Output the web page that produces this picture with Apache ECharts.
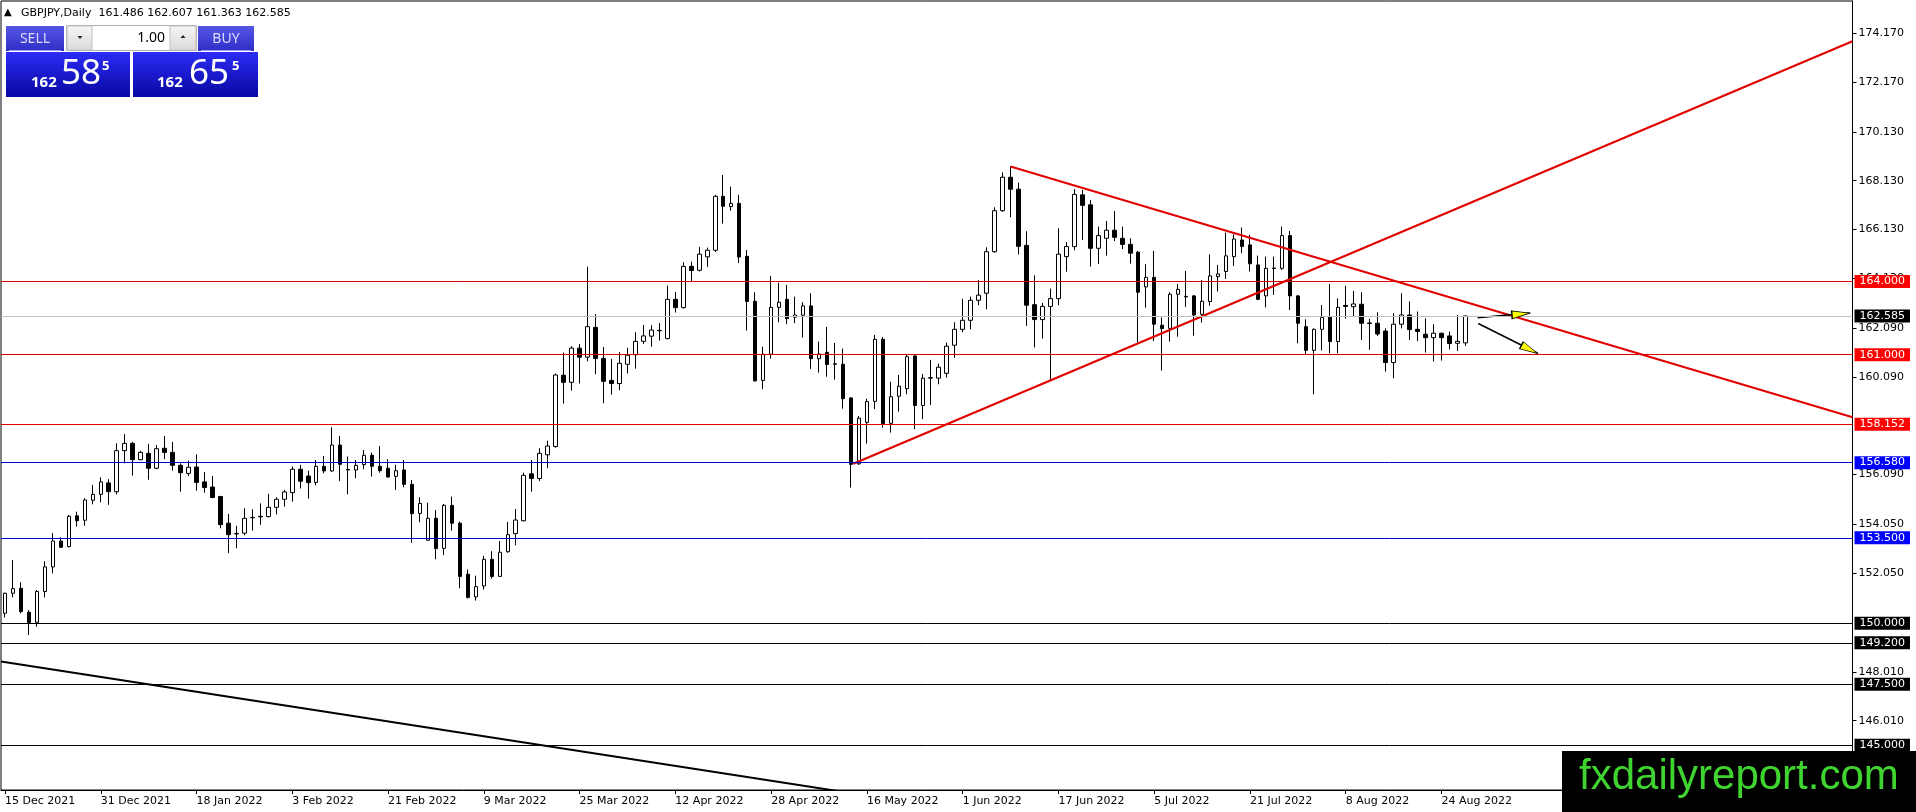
<!DOCTYPE html>
<html>
<head>
<meta charset="utf-8">
<title>GBPJPY,Daily</title>
<script src="https://cdn.jsdelivr.net/npm/echarts/dist/echarts.min.js"></script>
<style>
    html,body{margin:0;padding:0;background:#fff;}
    #price_chart{width:1916px;height:812px;}
</style>
</head>
<body>
<div id="price_chart"></div>
<script>
// trading days, one list per month
var month_names = ['Dec 2021', 'Jan 2022', 'Feb 2022', 'Mar 2022', 'Apr 2022', 'May 2022', 'Jun 2022', 'Jul 2022', 'Aug 2022'];
var month_days = [
    [15,16,17,20,21,22,23,24,27,28,29,30,31],
    [3,4,5,6,7,10,11,12,13,14,17,18,19,20,21,24,25,26,27,28,31],
    [1,2,3,4,7,8,9,10,11,14,15,16,17,18,21,22,23,24,25,28],
    [1,2,3,4,7,8,9,10,11,14,15,16,17,18,21,22,23,24,25,28,29,30,31],
    [1,4,5,6,7,8,11,12,13,14,15,18,19,20,21,22,25,26,27,28,29],
    [2,3,4,5,6,9,10,11,12,13,16,17,18,19,20,23,24,25,26,27,30,31],
    [1,2,3,6,7,8,9,10,13,14,15,16,17,20,21,22,23,24,27,28,29,30],
    [1,4,5,6,7,8,11,12,13,14,15,18,19,20,21,22,25,26,27,28,29],
    [1,2,3,4,5,8,9,10,11,12,15,16,17,18,19,22,23,24,25,26,29]
];
var empty_slots = 48;   // free space right of the last bar

// daily OHLC
var opens = [
    150.41,151.23,151.43,150.45,150.04,151.30,152.31,153.37,153.14,154.40,154.22,155.04,
    155.28,155.75,155.39,157.07,157.37,156.70,156.96,156.35,157.17,157.00,156.47,156.14,
    156.40,155.79,155.58,155.19,154.10,153.66,153.69,154.32,154.36,154.37,154.75,155.08,
    155.35,156.31,156.03,155.77,156.43,156.24,157.30,156.30,156.28,156.50,156.88,156.43,
    156.35,156.02,156.28,155.69,154.50,153.40,154.30,153.07,154.83,154.10,152.01,151.08,
    151.53,152.62,151.92,152.93,153.67,154.20,156.12,155.93,156.90,157.24,160.16,159.87,
    161.27,160.90,162.12,160.85,159.95,159.82,160.61,161.00,161.55,161.76,161.98,161.66,
    163.27,162.93,164.62,164.46,165.01,165.28,167.49,167.07,167.20,165.03,163.19,159.95,
    161.02,162.94,163.27,162.54,162.62,163.00,160.84,161.10,160.61,160.61,159.23,156.53,
    158.23,159.09,161.63,158.19,159.30,159.61,160.95,158.92,160.04,160.04,160.24,161.39,
    162.04,162.41,163.23,163.52,165.22,166.90,168.27,167.78,165.48,163.05,162.44,162.98,
    163.30,165.02,165.43,167.55,167.14,165.36,165.77,166.10,165.77,165.52,165.20,163.78,
    164.17,162.21,162.08,163.48,163.39,163.41,162.66,163.18,164.20,164.41,165.02,165.70,
    165.50,164.68,163.41,164.53,164.54,165.88,163.41,162.15,161.18,162.04,162.53,161.54,
    163.02,162.97,163.07,162.30,162.29,161.97,160.68,162.25,162.63,162.04,161.84,161.70,
    161.88,161.77,161.47,161.486
];
var highs = [
    151.25,152.59,151.68,150.54,151.36,152.54,153.69,153.52,154.44,154.57,155.12,155.67,
    155.98,155.90,157.37,157.75,157.43,157.07,157.35,157.30,157.67,157.43,156.55,156.66,
    156.92,156.20,156.03,155.22,154.48,153.99,154.71,154.67,154.91,155.30,155.16,155.46,
    156.42,156.49,156.25,156.69,156.85,158.03,157.67,156.83,156.69,157.10,156.99,157.26,
    156.72,156.49,156.69,155.87,155.16,154.94,154.64,154.89,155.19,154.16,152.20,151.95,
    152.76,152.95,153.37,154.15,154.68,156.17,156.69,157.17,157.48,160.23,161.09,161.35,
    161.44,164.60,162.66,161.32,160.83,161.11,161.29,161.92,162.22,162.21,162.30,163.83,
    163.57,164.79,164.81,165.42,165.39,167.55,168.36,167.89,167.55,165.29,163.56,161.33,
    164.23,163.95,163.86,163.38,163.15,163.52,161.54,162.14,161.48,161.25,159.26,158.49,
    159.20,161.81,161.73,159.89,160.17,160.99,160.98,160.21,160.79,160.64,161.50,162.33,
    163.29,163.38,164.06,165.40,167.04,168.47,168.71,168.05,166.06,164.25,163.12,163.71,
    166.18,165.61,167.79,167.75,167.34,166.25,166.48,166.89,166.25,165.77,165.25,164.71,
    165.25,162.53,163.56,163.90,164.43,163.45,164.06,165.11,164.68,166.00,165.93,166.21,
    165.91,165.06,165.02,165.02,166.25,166.07,163.45,162.45,162.08,163.04,163.90,163.31,
    163.82,163.61,163.56,162.47,162.74,162.08,162.70,163.52,163.18,162.77,162.49,162.25,
    161.90,161.95,162.63,162.607
];
var lows = [
    150.24,151.06,150.41,149.52,149.86,151.06,152.05,153.10,153.11,153.96,153.99,154.87,
    154.95,154.85,155.28,156.55,156.05,156.68,155.88,156.31,156.72,156.25,155.39,156.03,
    155.43,155.35,155.12,153.89,152.87,153.07,153.60,153.80,154.03,154.33,154.46,154.78,
    154.98,155.52,155.11,155.65,156.14,156.20,155.82,155.28,155.94,156.31,156.01,156.17,
    155.97,155.46,155.57,153.30,154.14,153.38,152.62,152.79,153.80,151.43,151.01,150.93,
    151.38,151.83,151.91,152.89,153.19,154.17,155.39,155.82,156.35,157.19,159.00,159.53,
    159.82,160.73,160.20,159.01,159.37,159.54,160.23,160.43,161.44,161.33,161.58,161.63,
    162.73,162.89,163.97,164.41,164.60,165.20,166.37,166.90,164.75,161.99,159.90,159.59,
    160.84,162.33,162.25,162.29,161.70,160.42,160.27,160.10,159.98,158.79,155.56,156.49,
    157.36,158.77,158.01,157.81,158.67,159.38,157.95,158.36,158.94,159.79,160.06,160.88,
    161.92,162.04,163.03,162.86,165.18,166.85,166.63,165.11,162.18,161.30,161.66,159.97,
    163.03,164.40,165.28,165.70,164.61,164.72,165.06,165.66,165.33,164.73,161.50,162.93,
    161.56,160.35,161.54,161.74,162.96,161.78,162.32,163.01,163.59,164.10,164.64,165.16,
    164.41,163.24,162.94,163.45,164.47,162.83,161.47,160.99,159.38,161.18,161.06,161.06,
    162.48,162.56,161.60,161.20,161.77,160.31,160.04,162.08,161.60,161.56,161.09,160.72,
    160.76,161.22,161.15,161.363
];
var closes = [
    151.23,151.42,150.48,150.03,151.30,152.31,153.37,153.11,154.38,154.20,155.05,155.28,
    155.79,155.39,157.07,157.37,156.70,157.00,156.35,157.15,157.00,156.47,156.17,156.39,
    155.77,155.56,155.15,154.04,153.63,153.68,154.30,154.34,154.38,154.75,155.08,155.38,
    156.31,155.82,155.76,156.43,156.24,157.30,156.51,156.28,156.47,156.88,156.43,156.25,
    155.99,156.25,155.69,154.49,154.91,154.30,153.06,154.83,154.10,151.92,151.06,151.50,
    152.62,151.92,152.91,153.63,154.23,156.06,155.93,156.96,157.26,160.17,159.87,161.27,
    160.90,162.15,160.85,159.91,159.82,160.65,160.98,161.55,161.77,162.01,162.00,163.27,
    162.93,164.62,164.45,165.12,165.28,167.49,167.08,167.20,165.00,163.18,159.93,161.02,
    162.94,163.15,162.48,162.63,163.00,160.84,161.03,160.60,160.63,159.20,156.51,158.40,
    159.08,161.63,158.18,159.28,159.71,160.92,158.92,160.04,160.06,160.49,161.35,162.04,
    162.41,163.23,163.44,165.22,166.90,168.27,167.78,165.44,163.03,162.44,162.98,163.30,
    165.12,165.43,167.57,167.12,165.36,165.88,166.10,165.81,165.52,165.16,163.56,164.17,
    162.25,162.07,163.48,163.68,163.37,162.63,163.19,164.23,164.31,165.05,165.74,165.43,
    164.73,163.27,164.54,164.55,165.88,163.41,162.29,161.18,162.04,162.53,161.54,162.94,
    162.98,163.08,162.29,162.28,161.85,160.68,162.25,162.63,162.03,161.95,161.70,161.88,
    161.70,161.46,161.55,162.585
];

// price scale tick labels (MT4 style)
var tick_values = [174.17, 172.17, 170.13, 168.13, 166.13, 164.13, 162.09, 160.09, 156.09, 154.05, 152.05, 148.01, 146.01];
var y_min = 143.17;
var y_max = 175.49;

// horizontal levels
var red_levels = [164.000, 161.000, 158.152];
var blue_levels = [156.580, 153.500];
var black_levels = [150.000, 149.200, 147.500, 145.000];
var bid_price = 162.585;
var ask_price = 162.655;

// trend lines, [bar index, price]
var rise_line = [[106.3, 156.53], [231.5, 173.84]];
var fall_line = [[126, 168.71], [231.5, 158.44]];
var black_line = [[-0.5, 148.43], [130, 141.83]];
var arrow_up = [[184.53, 162.51], [191.08, 162.71]];
var arrow_down = [[184.6, 162.28], [192.05, 161.06]];
var arrow_heads = [[189.95, 162.67], [191.03, 161.22]];
var arrow_angles = [5.3, -26.6];

var symbol_name = 'GBPJPY,Daily';


var categories = [];
month_days.forEach(function (days, m) {
    days.forEach(function (d) {
        categories.push(d + ' ' + month_names[m]);
    });
});
var bar_count = categories.length;
for (var k = 0; k < empty_slots; k++) {
    categories.push('');
}

var candle_data = opens.map(function (o, i) {
    return [o, closes[i], lows[i], highs[i]];
});

function show_date(index) {
    return index % 12 === 0 && index < bar_count;
}

// level line with coloured price box on the scale
function level_line(value, line_color, box_color) {
    return {
        yAxis: value,
        lineStyle: {color: line_color, width: 1, type: 'solid'},
        label: {
            show: true, position: 'end', distance: 2,
            formatter: value.toFixed(3),
            color: '#fff', backgroundColor: box_color,
            padding: [1, 5, 0, 5], fontSize: 11, lineHeight: 12,
            fontFamily: 'DejaVu Sans'
        }
    };
}

var level_data = [];
red_levels.forEach(function (v) { level_data.push(level_line(v, '#e00000', '#ff0000')); });
level_data.push(level_line(bid_price, '#c0c0c0', '#000'));
blue_levels.forEach(function (v) { level_data.push(level_line(v, '#0000d0', '#0000ff')); });
black_levels.forEach(function (v) { level_data.push(level_line(v, '#000', '#000')); });

function trend_series(points, color, width) {
    return {
        type: 'line', xAxisIndex: 1, yAxisIndex: 0,
        data: points, symbol: 'none', silent: true, z: 3,
        lineStyle: {color: color, width: width}
    };
}


// one click trading panel
function vgrad(c1, c2) {
    return new echarts.graphic.LinearGradient(0, 0, 0, 1, [{offset: 0, color: c1}, {offset: 1, color: c2}]);
}
function txt(x, y, s, font, fill, align) {
    return {
        type: 'text', x: x, y: y, z: 101,
        style: {text: s, font: font, fill: fill, align: align, verticalAlign: 'middle', textAlign: align, textVerticalAlign: 'middle'}
    };
}
function price_parts(p) {
    var s = p.toFixed(3);
    return [s.slice(0, 3), s.slice(4, 6), s.slice(6)];
}
var bid_parts = price_parts(bid_price);
var ask_parts = price_parts(ask_price);

var header_text = symbol_name + '  ' + [opens[bar_count - 1], highs[bar_count - 1], lows[bar_count - 1], closes[bar_count - 1]].map(function (v) {
    return v.toFixed(3);
}).join(' ');

var panel = [
    txt(4, 12, '\u25B2', '10px "DejaVu Sans"', '#000', 'left'),
    txt(21, 13, header_text, '11px "DejaVu Sans"', '#000', 'left'),

    {type: 'rect', z: 100, shape: {x: 6, y: 26, width: 58, height: 25}, style: {fill: vgrad('#5656e6', '#2e2ec6')}},
    {type: 'line', z: 101, shape: {x1: 9, y1: 50.5, x2: 61, y2: 50.5}, style: {stroke: '#9c9cf0', lineWidth: 1}},
    txt(35, 39, 'SELL', '14px "Noto Sans"', '#dcdcff', 'center'),

    {type: 'rect', z: 100, shape: {x: 66.5, y: 25.5, width: 130, height: 25}, style: {fill: '#fff', stroke: '#b0b0b0', lineWidth: 1}},
    {type: 'rect', z: 101, shape: {x: 67, y: 26, width: 25, height: 24}, style: {fill: vgrad('#f6f6f6', '#dadada'), stroke: '#c0c0c0', lineWidth: 1}},
    {type: 'polygon', z: 102, shape: {points: [[77.5, 36], [82.5, 36], [80, 39]]}, style: {fill: '#222'}},
    {type: 'rect', z: 101, shape: {x: 170, y: 26, width: 26, height: 24}, style: {fill: vgrad('#f6f6f6', '#dadada'), stroke: '#c0c0c0', lineWidth: 1}},
    {type: 'polygon', z: 102, shape: {points: [[180.5, 38], [185.5, 38], [183, 35]]}, style: {fill: '#222'}},
    txt(165, 38, '1.00', '14px "Noto Sans"', '#000', 'right'),

    {type: 'rect', z: 100, shape: {x: 198, y: 26, width: 56, height: 25}, style: {fill: vgrad('#5656e6', '#2e2ec6')}},
    {type: 'line', z: 101, shape: {x1: 201, y1: 50.5, x2: 251, y2: 50.5}, style: {stroke: '#9c9cf0', lineWidth: 1}},
    txt(226, 39, 'BUY', '14px "Noto Sans"', '#dcdcff', 'center'),

    {type: 'rect', z: 100, shape: {x: 6, y: 52, width: 124, height: 45}, style: {fill: vgrad('#2c2cf4', '#0808a4')}},
    {type: 'rect', z: 100, shape: {x: 133, y: 52, width: 125, height: 45}, style: {fill: vgrad('#2c2cf4', '#0808a4')}},
    txt(31, 83, bid_parts[0], 'bold 15px "Noto Sans"', '#fff', 'left'),
    txt(61, 74, bid_parts[1], '35px "Noto Sans"', '#fff', 'left'),
    txt(102, 66, bid_parts[2], 'bold 13px "Noto Sans"', '#fff', 'left'),
    txt(157, 83, ask_parts[0], 'bold 15px "Noto Sans"', '#fff', 'left'),
    txt(189, 74, ask_parts[1], '35px "Noto Sans"', '#fff', 'left'),
    txt(232, 66, ask_parts[2], 'bold 13px "Noto Sans"', '#fff', 'left'),

    // watermark
    {type: 'rect', z: 200, shape: {x: 1562, y: 751, width: 354, height: 61}, style: {fill: '#000'}},
    {type: 'text', x: 1579, y: 777, z: 201, style: {text: 'fxdailyreport.com', font: '42px "Liberation Sans"', fill: '#3fd42f', align: 'left', verticalAlign: 'middle', textAlign: 'left', textVerticalAlign: 'middle'}}
];


var price_chart = echarts.init(document.getElementById('price_chart'));
var option = {
    animation: false,
    backgroundColor: '#fff',
    textStyle: {fontFamily: 'DejaVu Sans'},
    grid: {
        left: 1, top: 1, width: 1851.5, height: 789,
        show: true, borderColor: '#000', borderWidth: 1, backgroundColor: '#fff'
    },
    xAxis: [{
        type: 'category',
        data: categories,
        boundaryGap: true,
        axisLine: {show: true, onZero: false, lineStyle: {color: '#000', width: 1}},
        axisTick: {show: true, alignWithLabel: true, interval: show_date, length: 4, lineStyle: {color: '#000'}},
        axisLabel: {interval: show_date, align: 'left', color: '#000', fontSize: 11, margin: 6, fontFamily: 'DejaVu Sans'},
        splitLine: {show: false}
    }, {
        type: 'value', min: -0.5, max: 231.5, show: false
    }],
    yAxis: {
        type: 'value',
        position: 'right',
        min: y_min,
        max: y_max,
        axisLine: {show: true, onZero: false, lineStyle: {color: '#000', width: 1}},
        axisTick: {show: true, customValues: tick_values, length: 4, lineStyle: {color: '#000'}},
        axisLabel: {
            customValues: tick_values,
            formatter: function (v) { return v.toFixed(3); },
            color: '#000', fontSize: 11, margin: 6, fontFamily: 'DejaVu Sans'
        },
        splitLine: {show: false}
    },
    series: [{
        type: 'candlestick',
        xAxisIndex: 0,
        data: candle_data,
        barWidth: 4,
        itemStyle: {color: '#fff', color0: '#000', borderColor: '#000', borderColor0: '#000', borderWidth: 1},
        markLine: {
            silent: true,
            symbol: ['none', 'none'],
            animation: false,
            data: level_data
        }
    },
        trend_series(rise_line, '#e00000', 2.2),
        trend_series(fall_line, '#e00000', 2.2),
        trend_series(black_line, '#000', 2),
        trend_series(arrow_up, '#000', 1.5),
        trend_series(arrow_down, '#000', 1.5),
        {
            type: 'scatter', xAxisIndex: 1, yAxisIndex: 0, silent: true, z: 5,
            symbol: 'path://M0,0L18,4L0,8Z',
            symbolSize: [18, 8],
            itemStyle: {color: '#ffff00', borderColor: '#000', borderWidth: 1, opacity: 1},
            data: arrow_heads.map(function (p, i) {
                return {value: p, symbolRotate: arrow_angles[i]};
            })
        }
    ],
    graphic: {elements: panel}
};
price_chart.setOption(option);
</script>
</body>
</html>
